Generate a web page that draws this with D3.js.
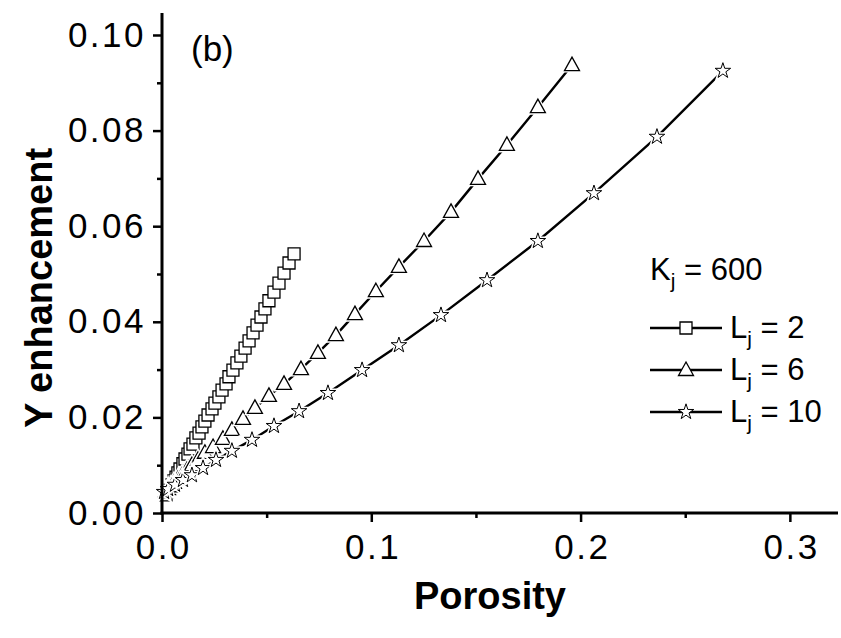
<!DOCTYPE html>
<html>
<head>
<meta charset="utf-8">
<script src="https://cdn.jsdelivr.net/npm/d3@7"></script>
<style>
  body { margin: 0; background: #fff; }
  svg { display: block; font-family: "Liberation Sans", Arial, sans-serif; }
  .axis path, .axis line { stroke: #000; }
  .axis text { fill: #000; font-size: 35px; letter-spacing: 2.5px; }
</style>
</head>
<body>
<script>
const width = 841;
const height = 638;

// L_j = 2 (squares)
const sqX = [0.0019, 0.0029, 0.0038, 0.0048, 0.0057, 0.0067, 0.0076, 0.0086, 0.0100, 0.0110,
    0.0124, 0.0134, 0.0148, 0.0162, 0.0177, 0.0191, 0.0205, 0.0220, 0.0239, 0.0253,
    0.0272, 0.0287, 0.0306, 0.0320, 0.0339, 0.0358, 0.0377, 0.0397, 0.0416, 0.0435,
    0.0454, 0.0473, 0.0492, 0.0511, 0.0535, 0.0559, 0.0583, 0.0607, 0.0631];
const sqY = [0.0038, 0.0044, 0.0050, 0.0059, 0.0067, 0.0075, 0.0084, 0.0092, 0.0103, 0.0113,
    0.0123, 0.0134, 0.0144, 0.0157, 0.0167, 0.0180, 0.0192, 0.0205, 0.0218, 0.0230,
    0.0243, 0.0257, 0.0270, 0.0285, 0.0299, 0.0314, 0.0328, 0.0345, 0.0360, 0.0377,
    0.0393, 0.0410, 0.0427, 0.0444, 0.0462, 0.0481, 0.0502, 0.0523, 0.0542];

// L_j = 6 (triangles)
const triX = [0.0019, 0.0029, 0.0043, 0.0057, 0.0076, 0.0096, 0.0119, 0.0143, 0.0172, 0.0205,
    0.0244, 0.0291, 0.0334, 0.0387, 0.0444, 0.0511, 0.0583, 0.0664, 0.0745, 0.0831,
    0.0922, 0.1022, 0.1132, 0.1252, 0.1381, 0.1510, 0.1648, 0.1796, 0.1959];
const triY = [0.0046, 0.0050, 0.0056, 0.0063, 0.0071, 0.0079, 0.0090, 0.0100, 0.0111, 0.0126,
    0.0138, 0.0155, 0.0174, 0.0197, 0.0220, 0.0245, 0.0270, 0.0301, 0.0335, 0.0372,
    0.0416, 0.0464, 0.0515, 0.0569, 0.0630, 0.0699, 0.0770, 0.0849, 0.0937];

// L_j = 10 (stars)
const starX = [0.0010, 0.0029, 0.0062, 0.0100, 0.0143, 0.0196, 0.0258, 0.0334, 0.0430, 0.0535,
    0.0655, 0.0793, 0.0956, 0.1132, 0.1333, 0.1553, 0.1796, 0.2064, 0.2365, 0.2680];
const starY = [0.0044, 0.0050, 0.0059, 0.0069, 0.0079, 0.0094, 0.0111, 0.0130, 0.0153, 0.0182,
    0.0213, 0.0251, 0.0299, 0.0351, 0.0414, 0.0487, 0.0569, 0.0669, 0.0787, 0.0925];

const seriesNames = ['2', '6', '10'];
const xTicks = [0, 0.1, 0.2, 0.3];
const xMinor = [0.05, 0.15, 0.25];
const yTicks = [0, 0.02, 0.04, 0.06, 0.08, 0.10];
const yMinor = [0.01, 0.03, 0.05, 0.07, 0.09];

const zip = (xs, ys) => xs.map((x, i) => ({x, y: ys[i]}));
const series = [
    {name: seriesNames[0], shape: 'square', pts: zip(sqX, sqY)},
    {name: seriesNames[1], shape: 'triangle', pts: zip(triX, triY)},
    {name: seriesNames[2], shape: 'star', pts: zip(starX, starY)},
];

const svg = d3.select('body').append('svg')
    .attr('width', width)
    .attr('height', height);

const x = d3.scaleLinear().domain([0, 0.323]).range([162, 838]);
const y = d3.scaleLinear().domain([0, 0.1046]).range([513, 13]);

function markerPath(shape) {
    if (shape === 'square') return 'M-6,-6H6V6H-6Z';
    if (shape === 'triangle') return 'M0,-8L7.5,5.5H-7.5Z';
    return d3.symbol().type(d3.symbolStar).size(75)();
}

// lines
const line = d3.line().x(d => x(d.x)).y(d => y(d.y));
series.forEach(s => {
    svg.append('path')
        .attr('d', line(s.pts))
        .attr('fill', 'none')
        .attr('stroke', '#000')
        .attr('stroke-width', 2.4);
});

// markers, with a white halo so the line stops short of each one
series.forEach(s => {
    const g = svg.append('g');
    s.pts.forEach(p => {
        const m = g.append('g').attr('transform', `translate(${x(p.x)},${y(p.y)})`);
        if (s.shape !== 'square') {
            m.append('path').attr('d', markerPath(s.shape))
                .attr('fill', '#fff').attr('stroke', '#fff').attr('stroke-width', 4);
        }
        m.append('path').attr('d', markerPath(s.shape))
            .attr('fill', '#fff')
            .attr('stroke', '#000')
            .attr('stroke-width', s.shape === 'star' ? 1 : 1.3);
    });
});

// minor ticks
svg.append('g')
    .attr('class', 'axis')
    .attr('transform', `translate(0,${y(0)})`)
    .call(d3.axisBottom(x).tickValues(xMinor).tickSize(5).tickSizeOuter(0).tickFormat(''))
    .call(g => g.select('.domain').remove())
    .selectAll('line').attr('stroke-width', 2.5);
svg.append('g')
    .attr('class', 'axis')
    .attr('transform', `translate(${x(0)},0)`)
    .call(d3.axisLeft(y).tickValues(yMinor).tickSize(5).tickSizeOuter(0).tickFormat(''))
    .call(g => g.select('.domain').remove())
    .selectAll('line').attr('stroke-width', 2.5);

// major axes
const xAxis = svg.append('g')
    .attr('class', 'axis')
    .attr('transform', `translate(0,${y(0)})`)
    .call(d3.axisBottom(x).tickValues(xTicks).tickSize(9).tickSizeOuter(0)
        .tickPadding(12).tickFormat(d3.format('.1f')));
xAxis.select('.domain').attr('stroke-width', 3).attr('d', `M${x.range()[0] - 1.5},0H${x.range()[1]}`);
xAxis.selectAll('line').attr('stroke-width', 2.5);
xAxis.selectAll('text').attr('dx', 1.25);

const yAxis = svg.append('g')
    .attr('class', 'axis')
    .attr('transform', `translate(${x(0)},0)`)
    .call(d3.axisLeft(y).tickValues(yTicks).tickSize(9).tickSizeOuter(0)
        .tickPadding(7).tickFormat(d3.format('.2f')));
yAxis.select('.domain').attr('stroke-width', 3).attr('d', `M0,${y.range()[1]}V${y.range()[0] + 1.5}`);
yAxis.selectAll('line').attr('stroke-width', 2.5);

// titles
svg.append('text')
    .attr('transform', `translate(52,288) rotate(-90)`)
    .attr('text-anchor', 'middle')
    .attr('font-size', 38)
    .attr('font-weight', 'bold')
    .text('Y enhancement');

svg.append('text')
    .attr('x', 490)
    .attr('y', 609)
    .attr('text-anchor', 'middle')
    .attr('font-size', 38)
    .attr('font-weight', 'bold')
    .text('Porosity');

svg.append('text')
    .attr('x', 191)
    .attr('y', 61)
    .attr('font-size', 35)
    .text('(b)');

// legend
const legend = svg.append('g');
const kText = legend.append('text')
    .attr('x', 650)
    .attr('y', 280)
    .attr('font-size', 31);
kText.append('tspan').text('K');
kText.append('tspan').attr('font-size', 21).attr('dy', 8).text('j');
kText.append('tspan').attr('dy', -8).text(' = 600');

series.forEach((s, i) => {
    const ly = 328 + i * 42;
    legend.append('line')
        .attr('x1', 650).attr('x2', 722)
        .attr('y1', ly).attr('y2', ly)
        .attr('stroke', '#000').attr('stroke-width', 2.4);
    legend.append('path')
        .attr('d', markerPath(s.shape))
        .attr('transform', `translate(686,${ly})`)
        .attr('fill', '#fff')
        .attr('stroke', '#000')
        .attr('stroke-width', s.shape === 'star' ? 1 : 1.3);
    const t = legend.append('text')
        .attr('x', 730)
        .attr('y', ly + 10)
        .attr('font-size', 31);
    t.append('tspan').text('L');
    t.append('tspan').attr('font-size', 21).attr('dy', 8).text('j');
    t.append('tspan').attr('dy', -8).text(` = ${s.name}`);
});
</script>
</body>
</html>
